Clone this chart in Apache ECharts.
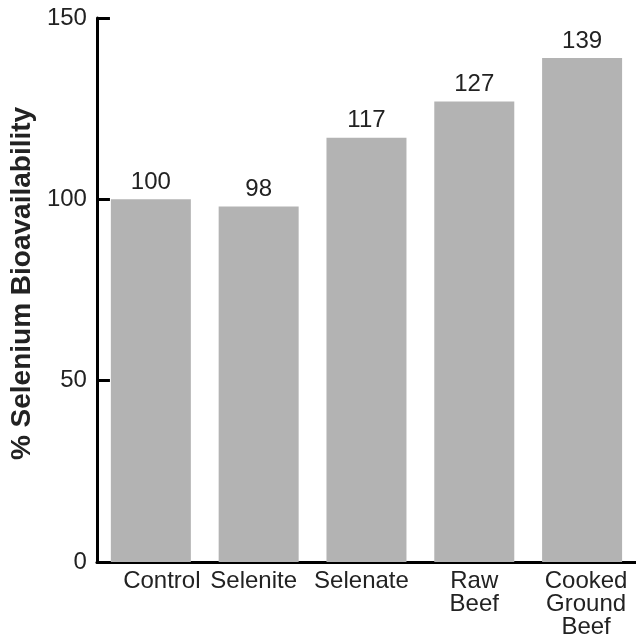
<!DOCTYPE html>
<html>
<head>
<meta charset="utf-8">
<script src="https://cdn.jsdelivr.net/npm/echarts@6/dist/echarts.min.js"></script>
<style>
html,body{margin:0;padding:0;background:#fff;}
#c{width:636px;height:644px;}
</style>
</head>
<body>
<div id="c"></div>
<script>
const categories = ["Control", "Selenite", "Selenate", "Raw\nBeef", "Cooked\nGround\nBeef"];
const values = [100, 98, 117, 127, 139];
const yTicks = [0, 50, 100, 150];

const chart = echarts.init(document.getElementById('c'), null, {renderer: 'canvas'});
const FONT = "'Liberation Sans', Arial, sans-serif";
chart.setOption({
  animation: false,
  backgroundColor: '#ffffff',
  grid: {left: 92, top: 18, width: 544, bottom: 82, containLabel: false},
  xAxis: {
    type: 'category',
    data: categories,
    axisLine: {lineStyle: {color: '#000', width: 3}},
    axisTick: {inside: true, length: 12, lineStyle: {color: '#000', width: 3}},
    axisLabel: {
      color: '#222', fontSize: 24, fontFamily: FONT, margin: 8, lineHeight: 23, interval: 0,
      formatter: function (v) {
        if (v === 'Control') return '{c|' + v + '}';
        if (v === 'Selenite' || v === 'Selenate') return '{s|' + v + '}';
        if (v.indexOf('Cooked') === 0) return v.split('\n').map(function (p) { return '{k|' + p + '}'; }).join('\n');
        return v;
      },
      rich: {
        c: {fontSize: 24, fontFamily: FONT, color: '#222', padding: [0, 0, 0, 22], lineHeight: 23},
        s: {fontSize: 24, fontFamily: FONT, color: '#222', padding: [0, 10, 0, 0], lineHeight: 23},
        k: {fontSize: 24, fontFamily: FONT, color: '#222', padding: [0, 0, 0, 8], lineHeight: 23}
      }
    }
  },
  yAxis: {
    type: 'value',
    min: yTicks[0], max: yTicks[yTicks.length - 1], interval: 50,
    name: '% Selenium Bioavailability',
    nameLocation: 'middle',
    nameGap: 56,
    nameTextStyle: {color: '#222', fontSize: 28, fontWeight: 'bold', fontFamily: FONT, padding: [0, 0, 0, 13]},
    axisLine: {show: true, lineStyle: {color: '#000', width: 3}},
    axisTick: {show: true, inside: true, length: 13, lineStyle: {color: '#000', width: 3}},
    axisLabel: {color: '#222', fontSize: 24, fontFamily: FONT, margin: 10},
    splitLine: {show: false}
  },
  series: [{
    type: 'bar',
    data: values,
    barWidth: 80,
    itemStyle: {color: '#b3b3b3'},
    label: {show: true, position: 'top', distance: 5, color: '#222', fontSize: 24, fontFamily: FONT}
  }]
});
</script>
</body>
</html>
